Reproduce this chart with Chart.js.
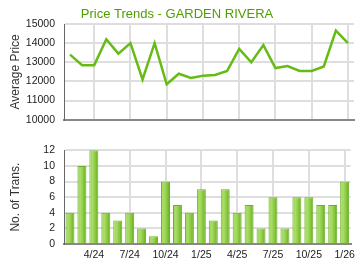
<!DOCTYPE html>
<html>
<head>
<meta charset="utf-8">
<script src="https://cdn.jsdelivr.net/npm/chart.js@4/dist/chart.umd.min.js"></script>
<style>
  html, body { margin: 0; padding: 0; background: #fff; }
  .box { position: relative; width: 360px; height: 135px; }
</style>
</head>
<body>
<div class="box"><canvas id="chartPrecio"></canvas></div>
<div class="box"><canvas id="chartTrans"></canvas></div>
<script>
// ── datos ──
const MESES = ['2/24','3/24','4/24','5/24','6/24','7/24','8/24','9/24','10/24','11/24','12/24',
               '1/25','2/25','3/25','4/25','5/25','6/25','7/25','8/25','9/25','10/25','11/25','12/25','1/26'];

const PRECIO = [13400,12850,12850,14200,13450,14000,12100,14000,11850,12400,12180,12300,
                12340,12550,13700,13000,13900,12700,12800,12550,12550,12780,14650,14000];

const TRANS = [4,10,12,4,3,4,2,1,8,5,4,7,3,7,4,5,2,6,2,6,6,5,5,8];

const TITULO = 'Price Trends - GARDEN RIVERA';

// ── estilos comunes ──
const FUENTE = "'Liberation Sans', Arial, sans-serif";
const GRID   = '#dedede';
const esTrimestre = (i) => i % 3 === 2;

const ejeY = (titulo, min, max, step) => ({
  min, max,
  ticks: { stepSize: step, color: '#222', padding: 9, font: { family: FUENTE, size: 10.5 },
           callback: (v) => String(v) },
  grid: { color: GRID, lineWidth: 2, drawTicks: false },
  border: { color: '#666', width: 1 },
  title: { display: true, text: titulo, color: '#333', padding: { top: 8, bottom: 0 },
           font: { family: FUENTE, size: 12 } },
  afterFit: (s) => { s.width = 64; }
});

const ejeX = (mostrarTicks) => ({
  offset: true,
  grid: {
    offset: false,
    drawTicks: false,
    lineWidth: 2,
    color: (c) => esTrimestre(c.index) ? GRID : 'rgba(0,0,0,0)'
  },
  border: { color: '#888', width: 2 },
  ticks: {
    display: mostrarTicks,
    autoSkip: false,
    maxRotation: 0,
    padding: 5,
    color: '#222',
    font: { family: FUENTE, size: 10.5 },
    callback: (v, i) => esTrimestre(i) ? MESES[i] : ''
  },
  afterFit: (s) => { if (!mostrarTicks) s.height = 0; else s.height = 26; }
});

// ── precio promedio ──
new Chart(document.getElementById('chartPrecio'), {
  type: 'line',
  data: {
    labels: MESES,
    datasets: [{
      data: PRECIO,
      borderColor: '#66bb14',
      borderWidth: 2.5,
      pointRadius: 0,
      tension: 0,
      fill: false
    }]
  },
  options: {
    responsive: true,
    maintainAspectRatio: false,
    animation: false,
    layout: { padding: { top: 0, right: 6, bottom: 5, left: 0 } },
    plugins: {
      legend: { display: false },
      tooltip: { enabled: false },
      title: {
        display: true,
        text: TITULO,
        color: '#4f9e00',
        font: { family: FUENTE, size: 13, weight: 'normal' },
        padding: { top: 7, bottom: 1.4 }
      }
    },
    scales: {
      x: ejeX(false),
      y: ejeY('Average Price', 10000, 15000, 1000)
    }
  }
});

// ── número de transacciones ──
const degradado = (c) => {
  const xs = c.chart.scales.x;
  if (!xs || !xs.width) return '#8cc63f';
  const cx = xs.getPixelForValue(c.dataIndex);
  const g = c.chart.ctx.createLinearGradient(cx - 4.5, 0, cx + 4.5, 0);
  g.addColorStop(0, '#9fd65a');
  g.addColorStop(0.35, '#a8dc66');
  g.addColorStop(0.7, '#86c63a');
  g.addColorStop(1, '#62a818');
  return g;
};

new Chart(document.getElementById('chartTrans'), {
  type: 'bar',
  data: {
    labels: MESES,
    datasets: [{
      data: TRANS,
      backgroundColor: degradado,
      borderColor: '#6ab02a',
      borderWidth: { left: 1, right: 1, top: 1, bottom: 0 },
      categoryPercentage: 0.75,
      barPercentage: 1
    }]
  },
  options: {
    responsive: true,
    maintainAspectRatio: false,
    animation: false,
    layout: { padding: { top: 12, right: 6, bottom: 0, left: 0 } },
    plugins: { legend: { display: false }, tooltip: { enabled: false } },
    scales: {
      x: ejeX(true),
      y: ejeY('No. of Trans.', 0, 12, 2)
    }
  }
});
</script>
</body>
</html>
